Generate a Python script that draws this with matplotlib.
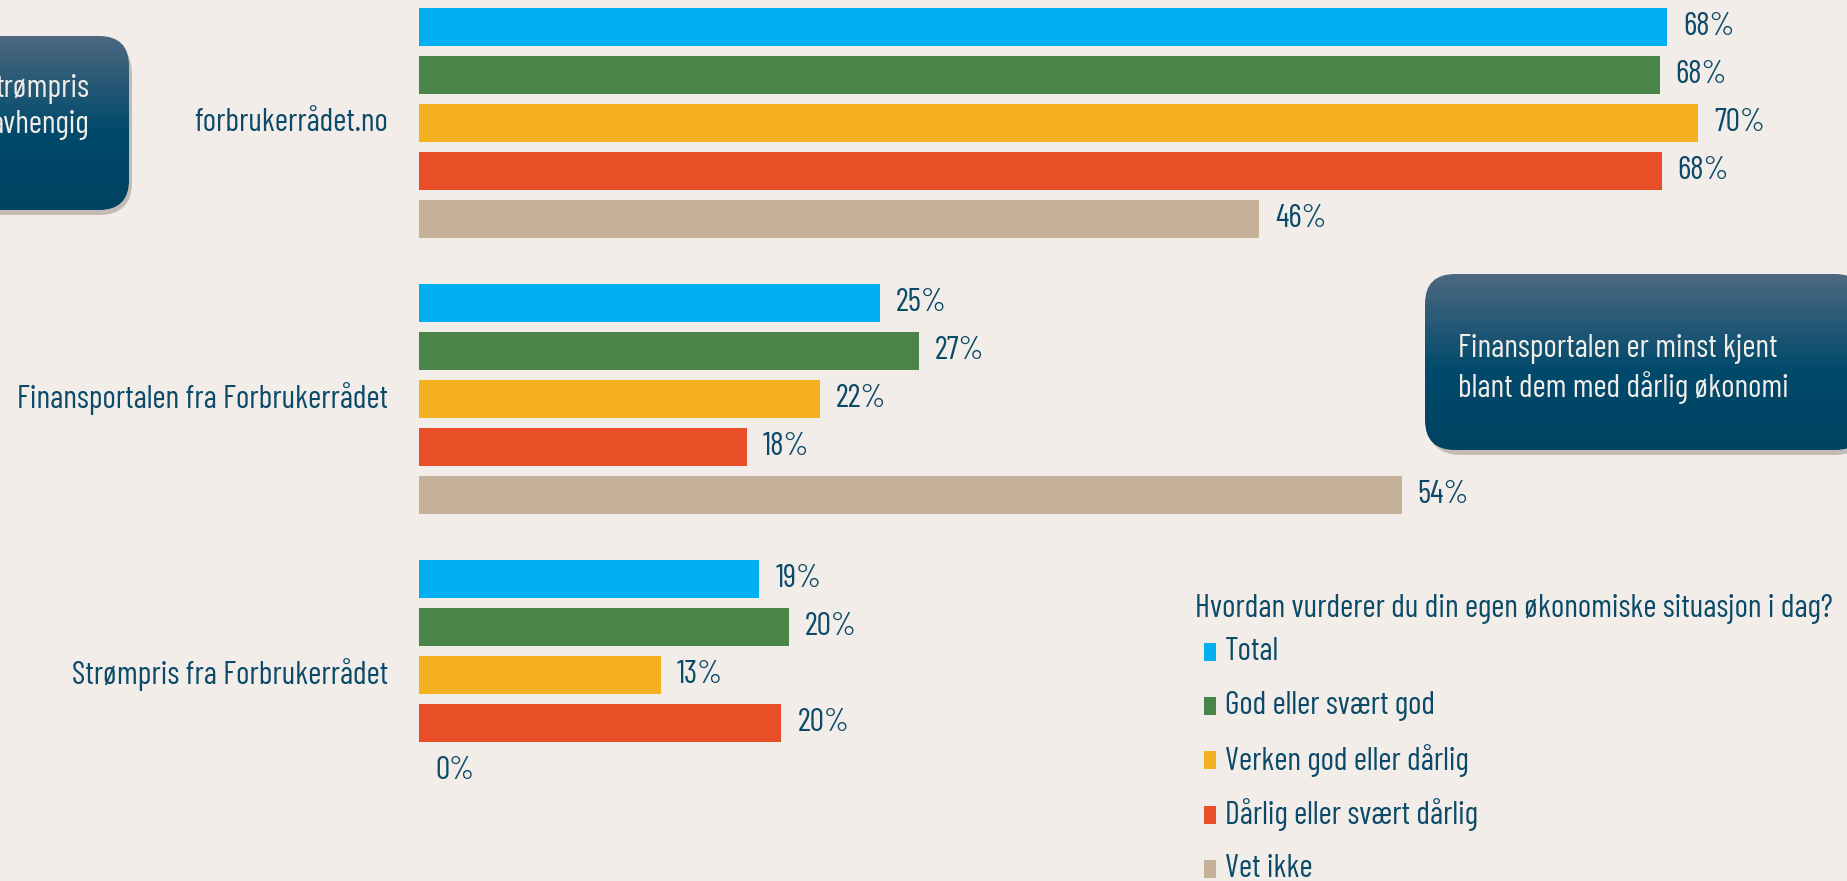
import matplotlib
matplotlib.use("Agg")
import matplotlib.pyplot as plt
from matplotlib.patches import FancyBboxPatch, Rectangle
import numpy as np

plt.rcParams["font.family"] = ["Barlow Condensed", "Roboto Condensed",
                               "IBM Plex Sans Condensed", "DejaVu Sans"]

categories = ["forbrukerrådet.no", "Finansportalen fra Forbrukerrådet", "Strømpris fra Forbrukerrådet"]
series = ["Total", "God eller svært god", "Verken god eller dårlig",
          "Dårlig eller svært dårlig", "Vet ikke"]
# bar lengths (labels are these, rounded)
values = [
    [68.2, 67.8, 69.9, 67.9, 45.9],
    [25.2, 27.3, 21.9, 17.9, 53.7],
    [18.6, 20.2, 13.2, 19.8, 0.0],
]
colors = ["#00b0f0", "#4a8449", "#f5b120", "#e94f26", "#c6b19a"]
legend_title = "Hvordan vurderer du din egen økonomiske situasjon i dag?"
callout_right = "Finansportalen er minst kjent\nblant dem med dårlig økonomi"
callout_left = "trømpris\navhengig"

BG = "#f2ede9"
TXT = "#0b4a68"
W, H = 1847, 881
FS = 23

fig = plt.figure(figsize=(W / 100, H / 100), dpi=100, facecolor=BG)

# bar axes: x=0 at 419px, 18.3 px per percent; rows 48 px apart
x0, ppu = 419, 18.3
ax = fig.add_axes([x0 / W, 0, 1 - x0 / W, 1])
ax.set_facecolor(BG)
ax.set_xlim(0, (W - x0) / ppu)
ax.set_ylim((H - 27) / 48, -27 / 48)
ax.axis("off")

group_gap = 5.75
for i, cat in enumerate(categories):
    base = i * group_gap
    for j, v in enumerate(values[i]):
        y = base + j
        ax.barh(y, v, height=0.79, color=colors[j], linewidth=0)
        ax.text(v + 16 / ppu, y, f"{int(v + 0.5)}%", ha="left", va="center",
                fontsize=FS, color=TXT)
    ax.text(-31 / ppu, base + 2, cat, ha="right", va="center", fontsize=FS, color=TXT)

# overlay in pixel coordinates for callouts and legend
ov = fig.add_axes([0, 0, 1, 1], zorder=5)
ov.axis("off")
ov.patch.set_alpha(0)


def callout(x, y, w, h, text, tx, ty, ha="left"):
    # soft shadow
    for k, a in zip(range(6, 0, -1), [0.03, 0.04, 0.05, 0.06, 0.07, 0.08]):
        sh = FancyBboxPatch((x + 3, y + 5), w, h, boxstyle=f"round,pad=0,rounding_size={30 + k}",
                            fc="#5a4a3a", ec="none", alpha=a)
        ov.add_patch(sh)
    box = FancyBboxPatch((x, y), w, h, boxstyle="round,pad=0,rounding_size=30",
                         fc="none", ec="none")
    ov.add_patch(box)
    c_top = np.array([0x4d, 0x68, 0x80]) / 255
    c_mid = np.array([0x00, 0x4a, 0x6c]) / 255
    c_bot = np.array([0x00, 0x42, 0x62]) / 255
    img = np.zeros((200, 1, 3))
    for n, g in enumerate(np.linspace(0, 1, 200)):
        if g < 0.55:
            t = g / 0.55
            img[n, 0] = c_top * (1 - t) + c_mid * t
        else:
            t = (g - 0.55) / 0.45
            img[n, 0] = c_mid * (1 - t) + c_bot * t
    im = ov.imshow(img, extent=(x, x + w, y + h, y), aspect="auto", zorder=6)
    im.set_clip_path(box)
    ov.text(tx, ty, text, ha=ha, va="center", fontsize=FS, color="#f2ede9",
            linespacing=1.3, zorder=7)


callout(-60, 36, 189, 174, callout_left, 89, 107, ha="right")
callout(1425, 274, 440, 176, callout_right, 1458, 369)
ov.set_xlim(0, W)
ov.set_ylim(H, 0)

# legend
ov.text(1195, 609, legend_title, ha="left", va="center", fontsize=FS, color=TXT)
for j, s in enumerate(series):
    yc = 652 + j * 54.2
    ov.add_patch(Rectangle((1204, yc - 9), 12, 18, fc=colors[j], ec="none"))
    ov.text(1225, yc, s, ha="left", va="center", fontsize=FS, color=TXT)

fig.savefig("out.png", dpi=100, facecolor=BG)
